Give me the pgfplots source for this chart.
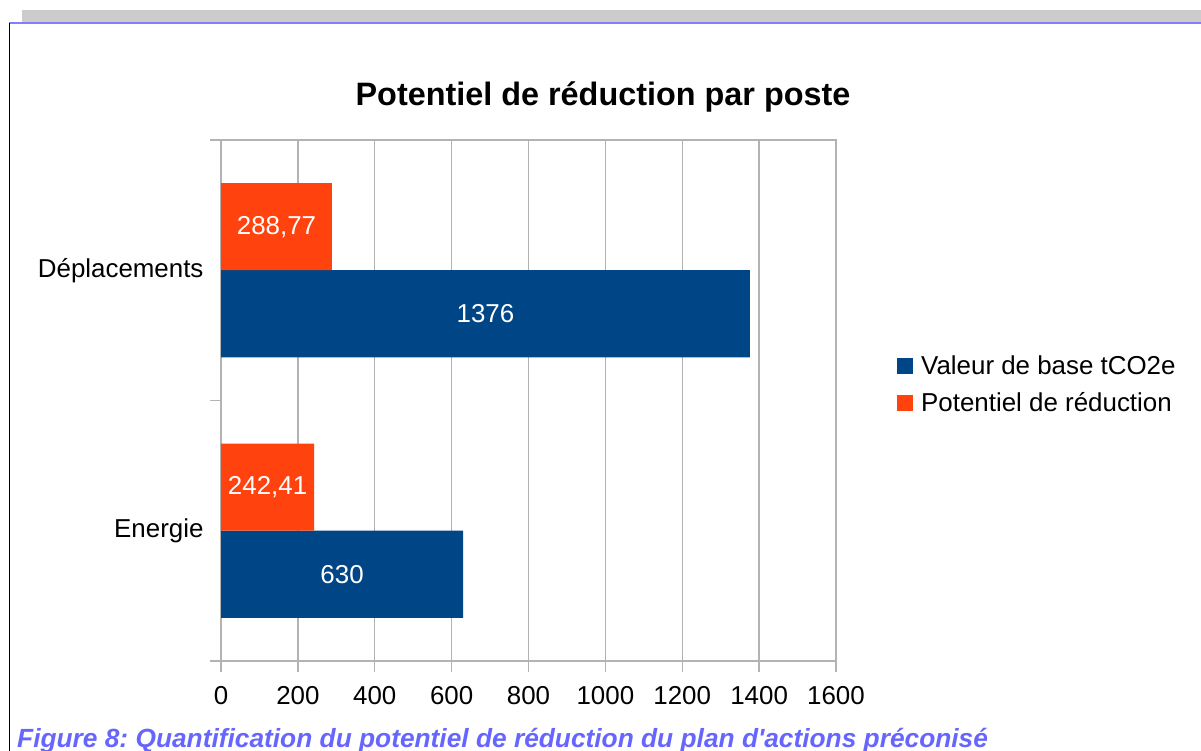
\documentclass[border=0pt]{standalone}
\usepackage{fontspec}
\setmainfont{Liberation Sans}
\usepackage{pgfplots}
\pgfplotsset{compat=1.18}
\definecolor{serA}{HTML}{004586}
\definecolor{serB}{HTML}{FF420E}
\definecolor{gridg}{HTML}{B3B3B3}
\definecolor{capblue}{RGB}{102,102,255}
\definecolor{topline}{RGB}{128,128,255}
\frenchspacing
\begin{document}
\begin{tikzpicture}[font=\fontsize{26}{31}\selectfont]
\clip (0,0) rectangle (1201bp,751bp);
\fill[black!20] (22bp,728bp) rectangle (1201bp,741bp);
\draw[topline, line width=1.2bp] (9bp,728bp) -- (1201bp,728bp);
\draw[black, line width=1.3bp] (9.6bp,728bp) -- (9.6bp,0);
\node[anchor=base, font=\fontsize{32.5}{38}\selectfont\bfseries] at (603bp,645bp) {Potentiel de réduction par poste};
\node[anchor=base west, font=\fontsize{26.4}{31}\selectfont\bfseries\itshape, text=capblue, inner sep=0pt] at (17bp,3.5bp) {Figure 8: Quantification du potentiel de réduction du plan d\textquotesingle actions préconisé};
\begin{axis}[
  at={(221bp,90bp)}, anchor=south west,
  scale only axis, width=615bp, height=521bp,
  xmin=0, xmax=1600, ymin=-0.5, ymax=1.5,
  xtick={0,200,...,1600},
  ytick={0,1}, yticklabels={Energie,Déplacements},
  minor ytick={-0.5,0.5,1.5},
  xtick pos=bottom, ytick pos=left,
  tick align=outside,
  major tick length=11bp, minor tick length=11bp,
  major y tick style={draw=none},
  minor y tick style={draw=gridg, line width=1.3bp},
  major x tick style={draw=gridg, line width=1.3bp},
  axis line style={draw=gridg, line width=1.3bp},
  xmajorgrids, grid style={draw=gridg, line width=1.3bp},
  ticklabel style={font=\fontsize{26}{31}\selectfont, text=black},
  xticklabel style={yshift=-11bp},
  yticklabel style={xshift=-3bp},
  /pgf/number format/assume math mode=true,
  /pgf/number format/1000 sep={},
  legend style={at={(rel axis cs:1,0.5)}, anchor=west, xshift=61bp, yshift=16bp,
    draw=none, fill=none, inner sep=0pt, row sep=17bp, column sep=8bp,
    nodes={inner sep=0pt, font=\fontsize{26}{31}\selectfont}},
  legend cell align=left,
  legend image code/.code={\fill[#1] (0bp,-8bp) rectangle (16bp,8bp);},
]
\addplot[xbar, bar width=0.334, bar shift=-0.167, fill=serA, draw=none] coordinates {(630,0) (1376,1)};
\addlegendentry{Valeur de base tCO2e}
\addplot[xbar, bar width=0.334, bar shift=0.167, fill=serB, draw=none] coordinates {(242.41,0) (288.77,1)};
\addlegendentry{Potentiel de réduction}
\node[text=white] at (axis cs:315,-0.167) {630};
\node[text=white] at (axis cs:688,0.833) {1376};
\node[text=white] at (axis cs:121.2,0.167) {242,41};
\node[text=white] at (axis cs:144.4,1.167) {288,77};
\end{axis}
\end{tikzpicture}
\end{document}
